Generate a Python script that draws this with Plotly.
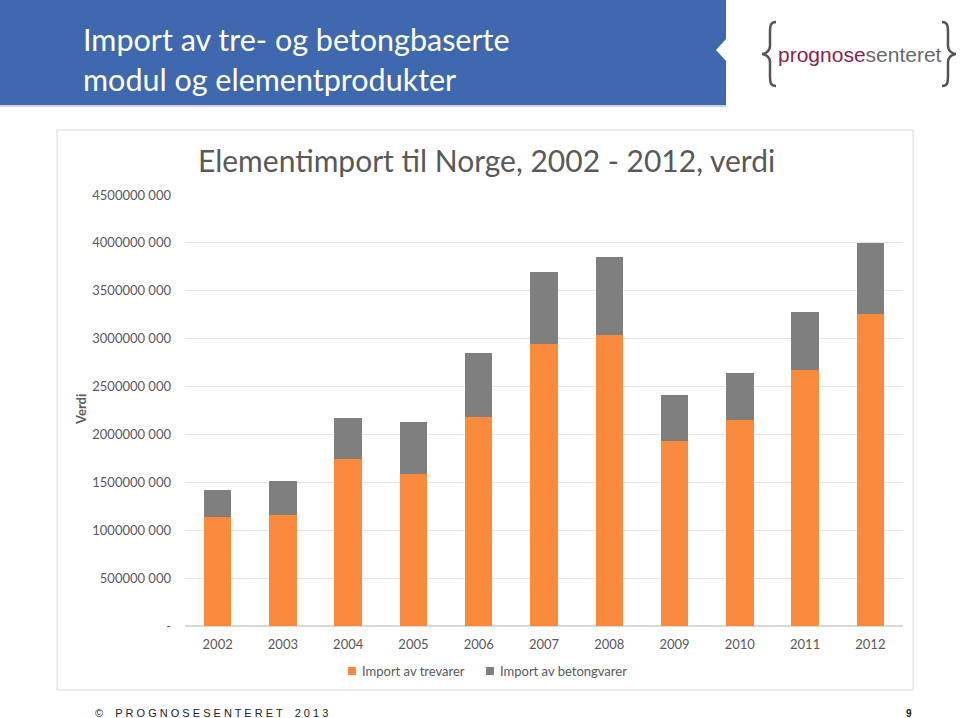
import plotly.graph_objects as go

years = ["2002", "2003", "2004", "2005", "2006", "2007", "2008", "2009", "2010", "2011", "2012"]
tre = [1.135e9, 1.156e9, 1.740e9, 1.583e9, 2.177e9, 2.948e9, 3.042e9, 1.927e9, 2.146e9, 2.677e9, 3.260e9]
totals = [1.417e9, 1.510e9, 2.167e9, 2.135e9, 2.854e9, 3.698e9, 3.854e9, 2.417e9, 2.646e9, 3.281e9, 4.000e9]
betong = [t - a for t, a in zip(totals, tre)]

tick_vals = [0, 5e8, 1e9, 1.5e9, 2e9, 2.5e9, 3e9, 3.5e9, 4e9, 4.5e9]
tick_text = ["-", "500000 000", "1000000 000", "1500000 000", "2000000 000", "2500000 000",
             "3000000 000", "3500000 000", "4000000 000", "4500000 000"]

W, H = 960, 718
L, R, T, B = 185, 57, 195, 92
pw, ph = W - L - R, H - T - B

def px(x):
    return (x - L) / pw

def py(y):
    return (H - B - y) / ph

ORANGE = "#FA8A3C"
GRAY = "#7F7F7F"

fig = go.Figure()
fig.add_trace(go.Bar(x=years, y=tre, name="Import av trevarer", marker_color=ORANGE,
                     marker_line_width=0, width=0.42))
fig.add_trace(go.Bar(x=years, y=betong, name="Import av betongvarer", marker_color=GRAY,
                     marker_line_width=0, width=0.42))

font = "Lato, 'Open Sans', sans-serif"

def brace(xc, y0, y1, d):
    # d = +1 for '{' (tip points left), -1 for '}'
    ym = (y0 + y1) / 2
    xe = xc + 6 * d
    xt = xc - 8 * d
    return (f"M {px(xe)} {py(y0)} "
            f"C {px(xc)} {py(y0)} {px(xc)} {py(y0+4)} {px(xc)} {py(y0+12)} "
            f"L {px(xc)} {py(ym-8)} "
            f"C {px(xc)} {py(ym-2)} {px(xt+2*d)} {py(ym)} {px(xt)} {py(ym)} "
            f"C {px(xt+2*d)} {py(ym)} {px(xc)} {py(ym+2)} {px(xc)} {py(ym+8)} "
            f"L {px(xc)} {py(y1-12)} "
            f"C {px(xc)} {py(y1-4)} {px(xc)} {py(y1)} {px(xe)} {py(y1)}")

shapes = [
    # header band
    dict(type="rect", xref="paper", yref="paper", x0=px(0), x1=px(726), y0=py(0), y1=py(105),
         fillcolor="#3F68AF", line_width=0, layer="below"),
    dict(type="line", xref="paper", yref="paper", x0=px(0), x1=px(726), y0=py(106), y1=py(106),
         line=dict(color="#C9D3E6", width=2)),
    dict(type="path", xref="paper", yref="paper",
         path=f"M {px(727)} {py(38)} L {px(716)} {py(50)} L {px(727)} {py(62)} Z",
         fillcolor="white", line_width=0),
    # logo braces
    dict(type="path", xref="paper", yref="paper", path=brace(770, 22, 86, 1),
         line=dict(color="#555555", width=2.5)),
    dict(type="path", xref="paper", yref="paper", path=brace(948, 22, 86, -1),
         line=dict(color="#555555", width=2.5)),
    # chart box
    dict(type="rect", xref="paper", yref="paper", x0=px(57), x1=px(913), y0=py(130), y1=py(690),
         line=dict(color="#D9D9D9", width=1), fillcolor="rgba(0,0,0,0)", layer="below"),
    # legend squares
    dict(type="rect", xref="paper", yref="paper", x0=px(348), x1=px(356), y0=py(667), y1=py(675),
         fillcolor=ORANGE, line_width=0),
    dict(type="rect", xref="paper", yref="paper", x0=px(486), x1=px(494), y0=py(667), y1=py(675),
         fillcolor=GRAY, line_width=0),
]

annotations = [
    dict(text="Import av tre- og betongbaserte<br>modul og elementprodukter", x=px(81), y=py(59),
         xref="paper", yref="paper", xanchor="left", yanchor="middle", align="left", showarrow=False,
         font=dict(family=font, size=30.5, color="white")),
    dict(text="Elementimport til Norge, 2002 - 2012, verdi", x=px(486), y=py(160),
         xref="paper", yref="paper", xanchor="center", yanchor="middle", showarrow=False,
         font=dict(family=font, size=30, color="#595959")),
    dict(text="<b>Verdi</b>", x=px(81), y=py(410), xref="paper", yref="paper", textangle=-90,
         xanchor="center", yanchor="middle", showarrow=False,
         font=dict(family=font, size=13, color="#595959")),
    # logo text
    dict(text="<span style='color:#8E1F45'>prognose</span><span style='color:#6A6A6A'>senteret</span>",
         x=px(860), y=py(54), xref="paper", yref="paper", xanchor="center", yanchor="middle",
         showarrow=False, font=dict(family="Liberation Sans", size=21)),
    # legend texts
    dict(text="Import av trevarer", x=px(360), y=py(671), xref="paper", yref="paper",
         xanchor="left", yanchor="middle", showarrow=False,
         font=dict(family=font, size=13, color="#595959")),
    dict(text="Import av betongvarer", x=px(498), y=py(671), xref="paper", yref="paper",
         xanchor="left", yanchor="middle", showarrow=False,
         font=dict(family=font, size=13, color="#595959")),
    # footer
    dict(text="©    P R O G N O S E S E N T E R E T    2 0 1 3", x=px(93), y=py(713),
         xref="paper", yref="paper", xanchor="left", yanchor="middle", showarrow=False,
         font=dict(family="Liberation Sans", size=11, color="#222222")),
    dict(text="<b>9</b>", x=px(914), y=py(713), xref="paper", yref="paper", xanchor="right",
         yanchor="middle", showarrow=False, font=dict(family="Liberation Sans", size=10, color="#222222")),
]

fig.update_layout(
    width=W, height=H, margin=dict(l=L, r=R, t=T, b=B),
    paper_bgcolor="white", plot_bgcolor="white",
    barmode="stack", bargap=0.58,
    shapes=shapes, annotations=annotations,
    font=dict(family=font, color="#595959"),
    showlegend=False,
    xaxis=dict(showgrid=False, showline=False, ticks="", tickfont=dict(size=13, color="#595959"),
               ticklabelstandoff=9, fixedrange=True),
    yaxis=dict(range=[0, 4.5e9], tickvals=tick_vals, ticktext=tick_text, showgrid=True,
               gridcolor="#E6E6E6", gridwidth=1, zeroline=True, zerolinecolor="#D9D9D9",
               tickfont=dict(size=13, color="#595959"), ticklabelstandoff=13, fixedrange=True),
)

fig.write_html("out.html", config={"displayModeBar": False},
               post_script="document.body.style.margin='0';document.body.style.padding='0';")
